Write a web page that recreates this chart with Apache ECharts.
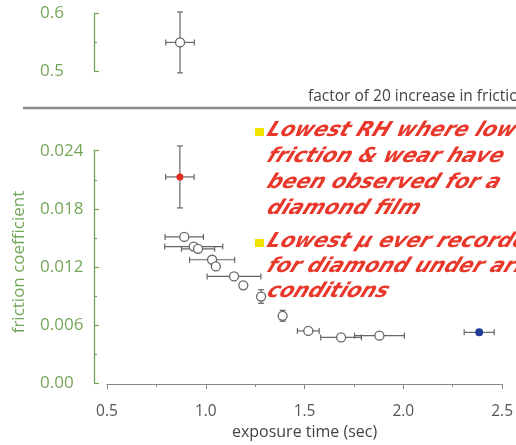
<!DOCTYPE html>
<html><head><meta charset="utf-8">
<script src="https://cdn.jsdelivr.net/npm/echarts@6/dist/echarts.min.js"></script>
<style>html,body{margin:0;padding:0;background:#fff}#c{width:516px;height:445px}</style>
</head><body><div id="c"></div>
<script>
// ---- data ----
const xRange = [0.5, 2.5];
const yTopRange = [0.5, 0.6];
const yBottomRange = [0, 0.024];
// open circles: x, y, x error, y error
const openX    = [0.891, 0.939, 0.961, 1.032, 1.051, 1.143, 1.190, 1.280, 1.389, 1.519, 1.685, 1.879];
const openY    = [0.0151, 0.0141, 0.01387, 0.01274, 0.01205, 0.01102, 0.0101, 0.00894, 0.00695, 0.00539, 0.00472, 0.0049];
const openXErr = [0.097, 0.147, 0.084, 0.114, 0, 0.136, 0, 0, 0, 0.055, 0.103, 0.126];
const openYErr = [0, 0, 0, 0, 0, 0, 0, 0.0007, 0.00056, 0, 0, 0];
// red point (lowest RH)
const redPt = [0.869, 0.02129, 0.072, 0.0032];
// blue point
const bluePt = [2.384, 0.00524, 0.076, 0];
// top panel point
const topPt = [0.869, 0.5497, 0.072, 0.053];
const annotation1 = ['Lowest RH where low', 'friction & wear have', 'been observed for a', 'diamond film'];
const annotation2 = ['Lowest \u03bc ever recorded', 'for diamond under arid', 'conditions'];
const breakNote = 'factor of 20 increase in friction';

// ---- chart ----
const green = '#74a65a';
const grey = '#666';
const red = '#e8382b';

function errRows(xs, ys, ex, ey) {
  return xs.map((x, i) => [x, ys[i], ex[i], ey[i]]);
}
function renderErr(params, api) {
  const x = api.value(0), y = api.value(1), ex = api.value(2), ey = api.value(3);
  const children = [];
  const cap = 3;
  const st = { stroke: grey, lineWidth: 1.2 };
  if (ex > 0) {
    const a = api.coord([x - ex, y]), b = api.coord([x + ex, y]);
    children.push({ type: 'line', shape: { x1: a[0], y1: a[1], x2: b[0], y2: b[1] }, style: st });
    children.push({ type: 'line', shape: { x1: a[0], y1: a[1] - cap, x2: a[0], y2: a[1] + cap }, style: st });
    children.push({ type: 'line', shape: { x1: b[0], y1: b[1] - cap, x2: b[0], y2: b[1] + cap }, style: st });
  }
  if (ey > 0) {
    const a = api.coord([x, y - ey]), b = api.coord([x, y + ey]);
    children.push({ type: 'line', shape: { x1: a[0], y1: a[1], x2: b[0], y2: b[1] }, style: st });
    children.push({ type: 'line', shape: { x1: a[0] - cap, y1: a[1], x2: a[0] + cap, y2: a[1] }, style: st });
    children.push({ type: 'line', shape: { x1: b[0] - cap, y1: b[1], x2: b[0] + cap, y2: b[1] }, style: st });
  }
  return { type: 'group', children };
}

const font = '"Open Sans", sans-serif';
const annStyle = { fontStyle: 'italic', fontWeight: 'bold', fontSize: 20.5, fontFamily: '"DejaVu Sans", sans-serif', fill: red, verticalAlign: 'middle', align: 'left' };
const SKEW = -0.2;
const annTexts = annotation1.concat(annotation2);

const graphics = [];
graphics.push({ type: 'line', shape: { x1: 23, y1: 108, x2: 516, y2: 108 }, style: { stroke: '#8c8c8c', lineWidth: 2.5 }, z: 10 });
graphics.push({ type: 'text', x: 308, y: 97, style: { text: breakNote, fontSize: 15.5, fontFamily: font, fill: '#444', verticalAlign: 'middle', align: 'left' }, z: 10 });
graphics.push({ type: 'text', x: 19, y: 262, rotation: Math.PI / 2, style: { text: 'friction coefficient', fontSize: 17, fontFamily: font, fill: green, verticalAlign: 'middle', align: 'center' }, z: 10 });
graphics.push({ type: 'rect', shape: { x: 255, y: 128, width: 9, height: 8 }, style: { fill: '#f2e400' }, z: 10 });
graphics.push({ type: 'rect', shape: { x: 255, y: 239, width: 9, height: 8 }, style: { fill: '#f2e400' }, z: 10 });
annotation1.forEach((t, i) => graphics.push({ type: 'text', x: 268, y: 130.5 + i * 26, style: Object.assign({ text: t }, annStyle), z: 10 }));
annotation2.forEach((t, i) => graphics.push({ type: 'text', x: 268, y: 241.5 + i * 25, style: Object.assign({ text: t }, annStyle), z: 10 }));

const yAxisCommon = {
  type: 'value',
  offset: 13,
  axisLine: { show: true, lineStyle: { color: green, width: 1.3 } },
  axisTick: { show: true, inside: true, length: 5, lineStyle: { color: green, width: 1.2 } },
  minorTick: { show: true, splitNumber: 2, length: 3, lineStyle: { color: green, width: 1.2 } },
  splitLine: { show: false },
  axisLabel: { color: green, fontSize: 17, fontFamily: font, align: 'left', margin: 54, padding: [5, 0, 0, 0] }
};

const option = {
  animation: false,
  backgroundColor: '#fff',
  grid: [
    { left: 107, right: 13, top: 13.5, height: 57.5 },
    { left: 107, right: 13, top: 150.7, height: 234.3 }
  ],
  xAxis: [
    { gridIndex: 0, type: 'value', min: xRange[0], max: xRange[1], show: false },
    { gridIndex: 1, type: 'value', min: xRange[0], max: xRange[1], interval: 0.5, offset: 1,
      axisLine: { show: true, onZero: false, lineStyle: { color: '#888', width: 1.2 } },
      axisTick: { show: true, length: 5, lineStyle: { color: '#888' } },
      minorTick: { show: true, splitNumber: 2, length: 3, lineStyle: { color: '#888' } },
      splitLine: { show: false },
      axisLabel: { color: '#555', fontSize: 15.5, fontFamily: font, margin: 19, formatter: v => v.toFixed(1) },
      name: 'exposure time (sec)', nameLocation: 'middle', nameGap: 39,
      nameTextStyle: { color: '#444', fontSize: 16, fontFamily: font }
    }
  ],
  yAxis: [
    Object.assign({}, yAxisCommon, { gridIndex: 0, min: yTopRange[0], max: yTopRange[1], interval: 0.1,
      axisLabel: Object.assign({}, yAxisCommon.axisLabel, { formatter: v => v.toFixed(1) }) }),
    Object.assign({}, yAxisCommon, { gridIndex: 1, min: yBottomRange[0], max: yBottomRange[1], interval: 0.006,
      axisLabel: Object.assign({}, yAxisCommon.axisLabel, { formatter: v => v === 0 ? '0.00' : v.toFixed(3) }) })
  ],
  series: [
    { type: 'custom', xAxisIndex: 0, yAxisIndex: 0, renderItem: renderErr, data: [topPt], z: 2 },
    { type: 'custom', xAxisIndex: 1, yAxisIndex: 1, renderItem: renderErr,
      data: errRows(openX, openY, openXErr, openYErr).concat([redPt, bluePt]), z: 2 },
    { type: 'scatter', xAxisIndex: 0, yAxisIndex: 0, data: [[topPt[0], topPt[1]]], symbolSize: 9,
      itemStyle: { color: '#fff', borderColor: grey, borderWidth: 1.3, opacity: 1 }, z: 3 },
    { type: 'scatter', xAxisIndex: 1, yAxisIndex: 1, data: openX.map((x, i) => [x, openY[i]]), symbolSize: 9,
      itemStyle: { color: '#fff', borderColor: grey, borderWidth: 1.3, opacity: 1 }, z: 3 },
    { type: 'scatter', xAxisIndex: 1, yAxisIndex: 1, data: [[redPt[0], redPt[1]]], symbolSize: 7,
      itemStyle: { color: '#e52a1f', opacity: 1 }, z: 4 },
    { type: 'scatter', xAxisIndex: 1, yAxisIndex: 1, data: [[bluePt[0], bluePt[1]]], symbolSize: 8,
      itemStyle: { color: '#1f3c96', opacity: 1 }, z: 4 }
  ],
  graphic: graphics
};
const chart = echarts.init(document.getElementById('c'), null, { renderer: 'canvas' });
chart.setOption(option);

// the installed DejaVu Sans has no oblique face: slant the annotation text elements
function slant() {
  const zr = chart.getZr();
  let found = 0;
  function walk(el) {
    if (!el) return;
    const txt = el.style && el.style.text;
    if (txt && annTexts.indexOf(txt) >= 0 && el.skewX !== SKEW) {
      el.skewX = SKEW;
      if (el.markRedraw) el.markRedraw();
      found++;
    }
    let kids = null;
    if (typeof el.childrenRef === 'function') kids = el.childrenRef();
    else if (Array.isArray(el._children)) kids = el._children;
    if (kids) kids.forEach(walk);
  }
  const roots = (zr.storage && zr.storage.getRoots) ? zr.storage.getRoots() : (zr.storage._roots || []);
  roots.forEach(walk);
  if (found) zr.refreshImmediately();
  return found;
}
slant();
chart.on('finished', slant);
setTimeout(slant, 0);
setTimeout(slant, 100);
</script></body></html>
